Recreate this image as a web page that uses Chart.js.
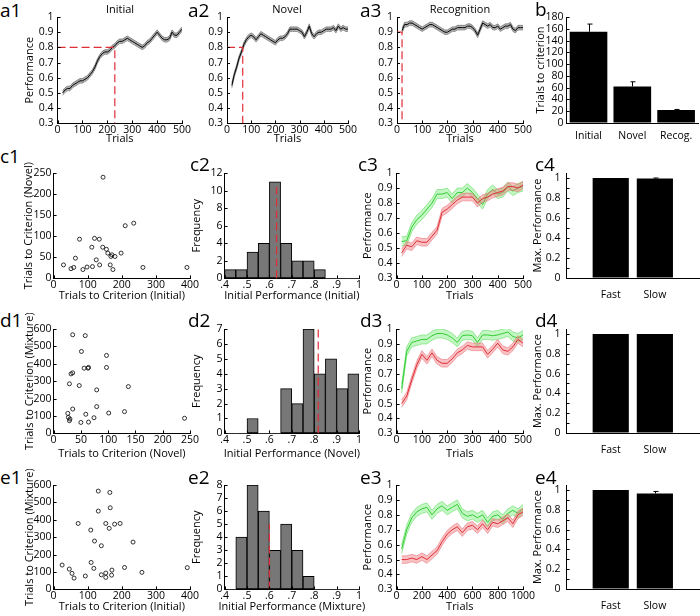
<!DOCTYPE html>
<html>
<head>
<meta charset="utf-8">
<script src="https://cdn.jsdelivr.net/npm/chart.js@4.4.0/dist/chart.umd.min.js"></script>
<style>
  body { margin: 0; width: 700px; height: 616px; overflow: hidden; background: #fff; position: relative; font-family: "Open Sans", sans-serif; }
  canvas { position: absolute; }
  .lbl { position: absolute; font-size: 19px; line-height: 1; color: #000; }
  .ttl { position: absolute; font-size: 11px; line-height: 13px; width: 120px; text-align: center; color: #000; }
</style>
</head>
<body>
<script>
// ---------------- data ----------------
const trialsA = [20,30,40,50,60,70,80,90,100,110,120,130,140,150,160,170,180,190,200,210,220,230,240,250,260,270,280,290,300,310,320,330,340,350,360,370,380,390,400,410,420,430,440,450,460,470,480,490,500];
const perfInitial = [0.50,0.52,0.53,0.53,0.55,0.56,0.57,0.58,0.58,0.59,0.60,0.62,0.64,0.67,0.71,0.74,0.76,0.77,0.77,0.78,0.80,0.81,0.83,0.84,0.84,0.85,0.86,0.85,0.84,0.83,0.82,0.81,0.80,0.81,0.83,0.84,0.86,0.88,0.90,0.88,0.86,0.85,0.85,0.86,0.90,0.88,0.88,0.90,0.92];
const perfNovel = [0.55,0.62,0.67,0.73,0.77,0.82,0.85,0.87,0.88,0.87,0.85,0.87,0.89,0.88,0.87,0.86,0.85,0.84,0.83,0.85,0.86,0.86,0.87,0.89,0.92,0.92,0.92,0.92,0.91,0.90,0.87,0.90,0.94,0.89,0.87,0.89,0.90,0.90,0.91,0.92,0.92,0.92,0.93,0.91,0.94,0.92,0.93,0.92,0.92];
const perfRecog = [0.91,0.95,0.95,0.96,0.96,0.95,0.94,0.93,0.92,0.93,0.94,0.95,0.95,0.94,0.93,0.92,0.91,0.90,0.90,0.91,0.92,0.92,0.93,0.93,0.93,0.93,0.94,0.94,0.93,0.91,0.88,0.92,0.96,0.95,0.94,0.95,0.93,0.93,0.94,0.92,0.93,0.94,0.94,0.95,0.92,0.91,0.93,0.93,0.93];
const semA = 0.015;

// criterion: level and trials to reach it
const critInitial = { level: 0.8, trials: 230 };
const critNovel = { level: 0.8, trials: 65 };
const critRecog = { level: 0.9, trials: 20 };

const critCats = ['Initial', 'Novel', 'Recog.'];
const critMeans = [155, 62, 22];
const critErrs = [13, 8, 1];

const trialsC = [20,40,60,80,100,120,140,160,180,200,220,240,260,280,300,320,340,360,380,400,420,440,460,480,500];
const c3Fast = [0.545,0.55,0.64,0.69,0.72,0.76,0.80,0.86,0.86,0.87,0.83,0.87,0.87,0.90,0.87,0.83,0.79,0.86,0.89,0.86,0.87,0.91,0.88,0.90,0.91];
const c3Slow = [0.47,0.52,0.51,0.55,0.54,0.54,0.58,0.62,0.74,0.76,0.79,0.82,0.84,0.84,0.84,0.80,0.83,0.84,0.86,0.87,0.88,0.91,0.91,0.90,0.92];
const d3Fast = [0.60,0.85,0.91,0.92,0.93,0.93,0.955,0.97,0.97,0.96,0.94,0.91,0.955,0.96,0.955,0.91,0.96,0.96,0.955,0.96,0.97,0.98,0.95,0.94,0.96];
const d3Slow = [0.50,0.55,0.66,0.76,0.83,0.79,0.84,0.79,0.77,0.77,0.80,0.84,0.86,0.89,0.88,0.88,0.88,0.83,0.865,0.905,0.86,0.85,0.88,0.93,0.905];
const trialsE = [40,80,120,160,200,240,280,320,360,400,440,480,520,560,600,640,680,720,760,800,840,880,920,960,1000];
const e3Fast = [0.57,0.70,0.78,0.82,0.84,0.85,0.80,0.84,0.86,0.83,0.85,0.87,0.81,0.79,0.80,0.78,0.80,0.75,0.79,0.80,0.77,0.81,0.83,0.81,0.84];
const e3Slow = [0.50,0.50,0.51,0.50,0.52,0.50,0.53,0.56,0.62,0.67,0.70,0.72,0.68,0.72,0.73,0.70,0.74,0.70,0.75,0.74,0.76,0.78,0.74,0.80,0.82];
const semFast = 0.03, semSlow = 0.025;

const c1Initial = [145,210,235,76,120,134,112,144,155,159,198,168,180,171,125,64,29,135,166,51,59,86,98,114,174,262,391];
const c1Novel = [240,125,131,93,95,93,74,74,69,60,60,52,52,56,44,48,32,32,32,23,26,21,27,28,21,26,26];
const d1Novel = [35,58,51,97,35,32,56,64,63,97,29,47,79,137,79,35,26,59,101,130,27,30,29,74,50,64,240];
const d1Mixture = [567,562,471,448,348,342,375,379,375,379,285,275,250,269,154,140,115,110,117,125,92,83,73,90,63,65,87];
const e1Initial = [131,165,166,131,72,153,179,195,163,109,120,233,140,110,25,46,118,208,171,54,60,93,140,153,153,170,259,392];
const e1Mixture = [565,557,469,450,379,379,375,379,351,341,278,272,251,155,140,117,121,126,111,92,65,77,84,94,69,82,98,125];

const binCenters = [0.425,0.475,0.525,0.575,0.625,0.675,0.725,0.775,0.825,0.875,0.925,0.975];
const c2Counts = [1,1,3,4,11,4,2,2,1,0,0,0];
const d2Counts = [0,0,1,0,0,3,2,7,4,5,3,4];
const e2Counts = [0,4,8,6,3,5,3,1,0,0,0,0];
const c2Median = 0.632, d2Median = 0.818, e2Median = 0.60;

const groups = ['Fast', 'Slow'];
const c4Max = [1, 0.995], c4Err = [0, 0.005];
const d4Max = [1, 1], d4Err = [0, 0];
const e4Max = [1, 0.965], e4Err = [0, 0.02];

// tick values and labels
const perfTicks = [0.3,0.4,0.5,0.6,0.7,0.8,0.9,1];
const perfLabels = ['0.3','0.4','0.5','0.6','0.7','0.8','0.9','1'];
const trial500Ticks = [0,100,200,300,400,500];
const trial1000Ticks = [0,200,400,600,800,1000];
const critTicks = [0,20,40,60,80,100,120,140,160,180];
const histTicks = [0.4,0.5,0.6,0.7,0.8,0.9,1];
const histLabels = ['.4','.5','.6','.7','.8','.9','1'];
const maxTicks = [0,0.1,0.2,0.3,0.4,0.5,0.6,0.7,0.8,0.9,1];
const maxLabels = ['0','','0.2','','0.4','','0.6','','0.8','','1'];

// ---------------- helpers ----------------
Chart.defaults.font.family = '"Open Sans", sans-serif';
Chart.defaults.font.size = 11;
Chart.defaults.color = '#000';
Chart.defaults.animation = false;
Chart.defaults.events = [];
Chart.defaults.plugins.legend.display = false;
Chart.defaults.plugins.tooltip.enabled = false;

const LH = 13.2;
const PAD_TOP = 16;
const RED = 'rgb(225,45,55)';
const TITLE_FONT = '11px "Open Sans", sans-serif';
const str = a => a.map(String);

function axis(min, max, ticks, labels, pad) {
  return {
    type: 'linear', min: min, max: max, offset: false,
    afterBuildTicks: s => { s.ticks = ticks.map(v => ({ value: v })); },
    ticks: { callback: (v, i) => labels[i], padding: pad, maxRotation: 0, minRotation: 0, autoSkip: false, font: { size: 10.5 } },
    grid: { drawOnChartArea: false, drawTicks: false },
    border: { color: '#000', width: 1 },
    title: { display: false }
  };
}

function tickMarks(xTicks, yTicks) {
  return {
    id: 'tickMarks',
    afterDraw(chart) {
      const { ctx, chartArea: a, scales: { x, y } } = chart;
      ctx.save();
      ctx.strokeStyle = '#000';
      ctx.lineWidth = 1;
      ctx.beginPath();
      xTicks.forEach(v => {
        const px = Math.round(x.getPixelForValue(v)) + 0.5;
        ctx.moveTo(px, a.bottom); ctx.lineTo(px, a.bottom - 3);
      });
      yTicks.forEach(v => {
        const py = Math.round(y.getPixelForValue(v)) + 0.5;
        ctx.moveTo(a.left, py); ctx.lineTo(a.left + 3, py);
      });
      ctx.stroke();
      ctx.restore();
    }
  };
}

// axis titles, drawn without the squeeze Chart.js applies to long titles
function axisTitles(xText, xY, yText, yX) {
  return {
    id: 'axisTitles',
    afterDraw(chart) {
      const { ctx, chartArea: a } = chart;
      ctx.save();
      ctx.font = TITLE_FONT;
      ctx.fillStyle = '#000';
      ctx.textAlign = 'center';
      ctx.textBaseline = 'middle';
      if (xText) ctx.fillText(xText, (a.left + a.right) / 2, xY);
      if (yText) {
        ctx.translate(yX, (a.top + a.bottom) / 2);
        ctx.rotate(-Math.PI / 2);
        ctx.fillText(yText, 0, 0);
      }
      ctx.restore();
    }
  };
}

function errorBars(means, errs) {
  return {
    id: 'errorBars',
    afterDatasetsDraw(chart) {
      const { ctx, scales: { x, y } } = chart;
      ctx.save();
      ctx.strokeStyle = '#000';
      ctx.lineWidth = 1;
      ctx.beginPath();
      means.forEach((m, i) => {
        if (!errs[i]) return;
        const px = Math.round(x.getPixelForValue(i + 1)) + 0.5;
        const top = y.getPixelForValue(m + errs[i]);
        ctx.moveTo(px, y.getPixelForValue(m)); ctx.lineTo(px, top);
        ctx.moveTo(px - 2, top); ctx.lineTo(px + 3, top);
      });
      ctx.stroke();
      ctx.restore();
    }
  };
}

// line on top, band edges below it
function band(xs, mean, sem, line, fill, edge) {
  return [
    { data: xs.map((x, i) => ({ x: x, y: mean[i] })), borderColor: line, borderWidth: 1, pointRadius: 0, fill: false },
    { data: xs.map((x, i) => ({ x: x, y: mean[i] + sem })), borderColor: edge, borderWidth: 0.7, pointRadius: 0, fill: '+1', backgroundColor: fill },
    { data: xs.map((x, i) => ({ x: x, y: mean[i] - sem })), borderColor: edge, borderWidth: 0.7, pointRadius: 0, fill: false }
  ];
}

function critLine(c) {
  return { data: [{ x: 0, y: c.level }, { x: c.trials, y: c.level }, { x: c.trials, y: 0.3 }],
    borderColor: RED, borderWidth: 1.2, borderDash: [8, 4], pointRadius: 0, fill: false };
}

function panel(box, type, datasets, xAx, yAx, plugins) {
  const padRight = 14;
  const w = box.ytx != null ? box.l - box.ytx + LH / 2 : 36;
  const h = box.h != null ? box.h : box.xty + LH / 2 - box.b;
  const cw = Math.round(w + (box.r - box.l) + padRight);
  const ch = Math.round(PAD_TOP + (box.b - box.t) + h);
  const cv = document.createElement('canvas');
  cv.width = cw; cv.height = ch;
  cv.style.width = cw + 'px'; cv.style.height = ch + 'px';
  cv.style.left = (box.l - w) + 'px';
  cv.style.top = (box.t - PAD_TOP) + 'px';
  document.body.appendChild(cv);
  xAx.afterFit = s => { s.height = h; };
  yAx.afterFit = s => { s.width = w; };
  const titles = axisTitles(box.xTitle, box.xty != null ? box.xty - box.t + PAD_TOP : 0,
    box.yTitle, box.ytx != null ? box.ytx - box.l + w : 0);
  return new Chart(cv, {
    type: type,
    data: { datasets: datasets },
    options: {
      responsive: false,
      layout: { padding: { top: PAD_TOP, right: padRight, left: 0, bottom: 0 } },
      scales: { x: xAx, y: yAx }
    },
    plugins: plugins.concat([titles])
  });
}

function perfPanel(box, sets, xMax, xTicks) {
  box.xTitle = 'Trials';
  return panel(box, 'line', sets,
    axis(0, xMax, xTicks, str(xTicks), 0),
    axis(0.3, 1, perfTicks, perfLabels, 4),
    [tickMarks(xTicks, perfTicks)]);
}

function scatterPanel(box, xs, ys, xMax, xTicks, yMax, yTicks) {
  const ds = [{ data: xs.map((x, i) => ({ x: x, y: ys[i] })), pointRadius: 2, borderWidth: 0.8,
    borderColor: '#000', backgroundColor: 'rgba(255,255,255,0)' }];
  return panel(box, 'scatter', ds,
    axis(0, xMax, xTicks, str(xTicks), 0),
    axis(0, yMax, yTicks, str(yTicks), 2),
    [tickMarks(xTicks, yTicks)]);
}

function histPanel(box, counts, median, medTop, yTicks) {
  box.yTitle = 'Frequency';
  const ds = [
    { type: 'line', data: [{ x: median, y: 0 }, { x: median, y: medTop }], borderColor: RED,
      borderWidth: 1.2, borderDash: [8, 4], pointRadius: 0, fill: false },
    { type: 'bar', data: binCenters.map((x, i) => ({ x: x, y: counts[i] })), backgroundColor: '#777',
      borderColor: '#000', borderWidth: c => (c.raw && c.raw.y > 0 ? 1 : 0), borderSkipped: false,
      barPercentage: 1, categoryPercentage: 1 }
  ];
  return panel(box, 'bar', ds,
    axis(0.4, 1, histTicks, histLabels, 0),
    axis(0, yTicks[yTicks.length - 1], yTicks, str(yTicks), 2),
    [tickMarks(histTicks, yTicks)]);
}

function maxPanel(box, vals, errs) {
  box.yTitle = 'Max. Performance';
  const ds = [{ data: vals.map((v, i) => ({ x: i + 1, y: v })), backgroundColor: '#000',
    barPercentage: 0.82, categoryPercentage: 1 }];
  return panel(box, 'bar', ds,
    axis(0, 3, [1, 2], groups, 11),
    axis(0, 1.05, maxTicks, maxLabels, 6),
    [tickMarks([], maxTicks), errorBars(vals, errs)]);
}

// ---------------- row a / b ----------------
const GRAY = 'rgba(150,150,150,0.75)';
perfPanel({ l: 58, t: 17, r: 182, b: 123, ytx: 30, xty: 139, yTitle: 'Performance' },
  [critLine(critInitial)].concat(band(trialsA, perfInitial, semA, '#000', GRAY, '#666')), 500, trial500Ticks);
perfPanel({ l: 227, t: 17, r: 348, b: 123, xty: 139 },
  [critLine(critNovel)].concat(band(trialsA, perfNovel, semA, '#000', GRAY, '#666')), 500, trial500Ticks);
perfPanel({ l: 397, t: 17, r: 523, b: 123, xty: 139 },
  [critLine(critRecog)].concat(band(trialsA, perfRecog, semA, '#000', GRAY, '#666')), 500, trial500Ticks);

panel({ l: 567, t: 17, r: 698, b: 123, ytx: 541, h: 24, yTitle: 'Trials to criterion' }, 'bar',
  [{ data: critMeans.map((v, i) => ({ x: i + 1, y: v })), backgroundColor: '#000', barPercentage: 0.86, categoryPercentage: 1 }],
  axis(0.5, 3.5, [1, 2, 3], critCats, 7),
  axis(0, 180, critTicks, str(critTicks), 3),
  [tickMarks([], critTicks), errorBars(critMeans, critErrs)]);

// ---------------- rows c-e ----------------
const GREEN = 'rgb(50,205,50)', GFILL = 'rgba(120,235,120,0.45)', GEDGE = 'rgba(90,215,90,0.8)';
const PINK = 'rgba(240,120,125,0.45)', PEDGE = 'rgba(230,110,115,0.8)';

const rows = [
  { t: 173, b: 278, xty: 296 },
  { t: 329, b: 433, xty: 454 },
  { t: 485, b: 589, xty: 607 }
];
const rowBox = (i, l, r, ytx, extra) => Object.assign({ l: l, t: rows[i].t, r: r, b: rows[i].b, ytx: ytx, xty: rows[i].xty }, extra);

scatterPanel(rowBox(0, 54, 190, 29, { xTitle: 'Trials to Criterion (Initial)', yTitle: 'Trials to Criterion (Novel)' }),
  c1Initial, c1Novel, 400, [0, 100, 200, 300, 400], 250, [0, 50, 100, 150, 200, 250]);
scatterPanel(rowBox(1, 54, 190, 30, { xTitle: 'Trials to Criterion (Novel)', yTitle: 'Trials to Criterion (Mixture)' }),
  d1Novel, d1Mixture, 250, [0, 50, 100, 150, 200, 250], 600, [0, 100, 200, 300, 400, 500, 600]);
scatterPanel(rowBox(2, 54, 190, 30, { xTitle: 'Trials to Criterion (Initial)', yTitle: 'Trials to Criterion (Mixture)' }),
  e1Initial, e1Mixture, 400, [0, 100, 200, 300, 400], 600, [0, 100, 200, 300, 400, 500, 600]);

histPanel(rowBox(0, 225, 359, 197, { xTitle: 'Initial Performance (Initial)' }), c2Counts, c2Median, 10.4, [0, 2, 4, 6, 8, 10, 12]);
histPanel(rowBox(1, 225, 359, 197, { xTitle: 'Initial Performance (Novel)' }), d2Counts, d2Median, 7, [0, 1, 2, 3, 4, 5, 6, 7]);
histPanel(rowBox(2, 225, 359, 197, { xTitle: 'Initial Performance (Mixture)' }), e2Counts, e2Median, 5, [0, 1, 2, 3, 4, 5, 6, 7, 8]);

perfPanel(rowBox(0, 397, 523, 368, { yTitle: 'Performance' }),
  band(trialsC, c3Slow, semSlow, RED, PINK, PEDGE).concat(band(trialsC, c3Fast, semFast, GREEN, GFILL, GEDGE)), 500, trial500Ticks);
perfPanel(rowBox(1, 397, 523, 368, { yTitle: 'Performance' }),
  band(trialsC, d3Slow, semSlow, RED, PINK, PEDGE).concat(band(trialsC, d3Fast, semFast, GREEN, GFILL, GEDGE)), 500, trial500Ticks);
perfPanel(rowBox(2, 397, 523, 368, { yTitle: 'Performance' }),
  band(trialsE, e3Slow, semSlow, RED, PINK, PEDGE).concat(band(trialsE, e3Fast, semFast, GREEN, GFILL, GEDGE)), 1000, trial1000Ticks);

maxPanel(rowBox(0, 567, 699, 538, { h: 28 }), c4Max, c4Err);
maxPanel(rowBox(1, 567, 699, 538, { h: 28 }), d4Max, d4Err);
maxPanel(rowBox(2, 567, 699, 538, { h: 28 }), e4Max, e4Err);

// ---------------- panel letters and titles ----------------
const panelLetters = [
  ['a1', 0, 1], ['a2', 188, 1], ['a3', 360, 1], ['b', 535, 0],
  ['c1', 0, 147], ['c2', 190, 155], ['c3', 358, 155], ['c4', 535, 155],
  ['d1', 0, 311], ['d2', 188, 311], ['d3', 360, 311], ['d4', 535, 311],
  ['e1', 0, 468], ['e2', 188, 468], ['e3', 360, 468], ['e4', 535, 468]
];
panelLetters.forEach(([t, x, y]) => {
  const d = document.createElement('div');
  d.className = 'lbl'; d.textContent = t;
  d.style.left = x + 'px'; d.style.top = y + 'px';
  document.body.appendChild(d);
});
[['Initial', 120], ['Novel', 287], ['Recognition', 460]].forEach(([t, cx]) => {
  const d = document.createElement('div');
  d.className = 'ttl'; d.textContent = t;
  d.style.left = (cx - 60) + 'px'; d.style.top = '2px';
  document.body.appendChild(d);
});
</script>
</body>
</html>
